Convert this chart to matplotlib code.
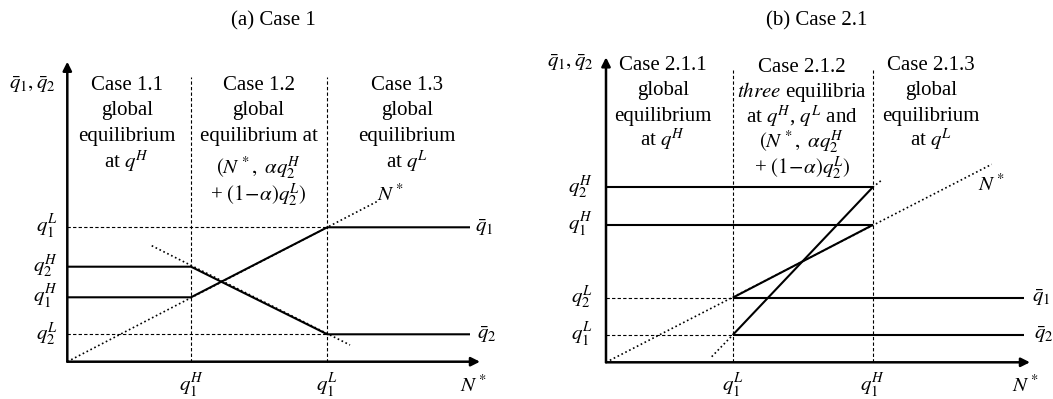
import matplotlib
matplotlib.use('Agg')
import matplotlib.pyplot as plt

plt.rcParams['font.family'] = 'Liberation Serif'
plt.rcParams['mathtext.fontset'] = 'stix'
FS = 15

# ---- panel (a): Case 1 ----
a_q1H_x, a_q1L_x = 1.237, 2.60          # thresholds on the N* axis
a_q1L, a_q2H, a_q1H, a_q2L = 1.344, 0.95, 0.644, 0.274
a_end = 4.027
a_qbar1_x = [0, a_q1H_x, a_q1L_x, a_end]
a_qbar1_y = [a_q1H, a_q1H, a_q1L, a_q1L]
a_qbar2_x = [0, a_q1H_x, a_q1L_x, a_end]
a_qbar2_y = [a_q2H, a_q2H, a_q2L, a_q2L]
a_nstar_x, a_nstar_y = [0, 3.094], [0, 1.60]
a_ext_x, a_ext_y = [0.844, 2.827], [1.16, 0.167]

# ---- panel (b): Case 2.1 ----
b_q1L_x, b_q1H_x = 1.267, 2.667
b_q2H, b_q1H, b_q2L, b_q1L = 1.75, 1.373, 0.646, 0.273
b_end = 4.183
b_nstar_x, b_nstar_y = [0, 3.857], [0, 1.98]
b_steep_x = [b_q1L_x, b_q1H_x]
b_steep_y = [b_q1L, b_q2H]
b_steep_lo_x, b_steep_lo_y = [1.057, b_q1L_x], [0.056, b_q1L]
b_steep_hi_x, b_steep_hi_y = [b_q1H_x, 2.767], [b_q2H, 1.83]

W, H = 1053, 399
fig = plt.figure(figsize=(W / 100, H / 100), dpi=100)

SOLID = dict(color='black', lw=1.5, solid_capstyle='butt', clip_on=False)
DASH = dict(color='black', lw=0.8, ls=(0, (3, 2)), clip_on=False)
DOT = dict(color='black', lw=1.2, ls=(0, (1, 1.6)), clip_on=False)


def make_axes(ox, oy, xmax, ymax):
    # origin in pixels from the top-left corner, 100 px per unit
    ax = fig.add_axes([ox / W, (H - oy) / H, xmax * 100 / W, ymax * 100 / H])
    ax.set_xlim(0, xmax)
    ax.set_ylim(0, ymax)
    ax.set_axis_off()
    return ax


def axis_arrows(ax, xend, yend):
    for tip in [(xend, 0), (0, yend)]:
        ax.annotate('', xy=tip, xytext=(0, 0), annotation_clip=False,
                    arrowprops=dict(arrowstyle='-|>', lw=1.8, color='black',
                                    mutation_scale=13, shrinkA=0, shrinkB=0))


def text_block(ax, x, ys, lines):
    for y, s in zip(ys, lines):
        ax.text(x, y, s, ha='center', va='center', fontsize=FS)


# ================= (a) =================
ax = make_axes(67.3, 361.7, 4.3, 3.1)
axis_arrows(ax, 4.127, 3.0)
for xv in [a_q1H_x, a_q1L_x]:
    ax.plot([xv, xv], [0, 2.847], **DASH)
for yv in [a_q1L, a_q2L]:
    ax.plot([0, a_q1L_x], [yv, yv], **DASH)
ax.plot(a_nstar_x, a_nstar_y, **DOT)
ax.plot(a_ext_x, a_ext_y, **DOT)
ax.plot(a_qbar1_x, a_qbar1_y, **SOLID)
ax.plot(a_qbar2_x, a_qbar2_y, **SOLID)

for yv, s in [(a_q1L, '$q_1^L$'), (a_q2H, '$q_2^H$'), (a_q1H, '$q_1^H$'), (a_q2L, '$q_2^L$')]:
    ax.text(-0.09, yv, s, ha='right', va='center', fontsize=FS)
for xv, s in [(a_q1H_x, '$q_1^H$'), (a_q1L_x, '$q_1^L$'), (4.06, '$N^*$')]:
    ax.text(xv, -0.245, s, ha='center', va='center', fontsize=FS)
ax.text(4.077, a_q1L, r'$\bar{q}_1$', ha='left', va='center', fontsize=FS)
ax.text(4.097, a_q2L, r'$\bar{q}_2$', ha='left', va='center', fontsize=FS)
ax.text(3.228, 1.667, '$N^*$', ha='center', va='center', fontsize=FS)
ax.text(-0.353, 2.767, r'$\bar{q}_1, \bar{q}_2$', ha='center', va='center', fontsize=FS)

text_block(ax, 0.595, [2.767, 2.517, 2.247, 1.997],
           ['Case 1.1', 'global', 'equilibrium', 'at $q^H$'])
text_block(ax, 1.913, [2.767, 2.517, 2.247, 1.937, 1.667],
           ['Case 1.2', 'global', 'equilibrium at',
            r'$(N^*,\ \alpha q_2^H$', r'+ $(1\!-\!\alpha)q_2^L)$'])
text_block(ax, 3.397, [2.767, 2.517, 2.247, 1.997],
           ['Case 1.3', 'global', 'equilibrium', 'at $q^L$'])
fig.text(273 / W, 1 - 21 / H, '(a) Case 1', ha='center', va='center', fontsize=FS)

# ================= (b) =================
ax = make_axes(606, 362.3, 4.4, 3.1)
axis_arrows(ax, 4.24, 3.05)
for xv in [b_q1L_x, b_q1H_x]:
    ax.plot([xv, xv], [0, 2.92], **DASH)
for yv in [b_q2L, b_q1L]:
    ax.plot([0, b_q1L_x], [yv, yv], **DASH)
ax.plot(b_nstar_x, b_nstar_y, **DOT)
ax.plot(b_steep_lo_x, b_steep_lo_y, **DOT)
ax.plot(b_steep_hi_x, b_steep_hi_y, **DOT)
ax.plot([0, b_q1H_x], [b_q2H, b_q2H], **SOLID)
ax.plot([0, b_q1H_x], [b_q1H, b_q1H], **SOLID)
ax.plot([b_q1L_x, b_q1H_x], [b_q2L, b_q1H], **SOLID)
ax.plot(b_steep_x, b_steep_y, **SOLID)
ax.plot([b_q1L_x, b_end], [b_q2L, b_q2L], **SOLID)
ax.plot([b_q1L_x, b_end], [b_q1L, b_q1L], **SOLID)

for yv, s in [(b_q2H, '$q_2^H$'), (b_q1H, '$q_1^H$'), (b_q2L, '$q_2^L$'), (b_q1L, '$q_1^L$')]:
    ax.text(-0.13, yv, s, ha='right', va='center', fontsize=FS)
for xv, s in [(b_q1L_x, '$q_1^L$'), (b_q1H_x, '$q_1^H$'), (4.19, '$N^*$')]:
    ax.text(xv, -0.235, s, ha='center', va='center', fontsize=FS)
ax.text(4.257, b_q2L, r'$\bar{q}_1$', ha='left', va='center', fontsize=FS)
ax.text(4.277, b_q1L, r'$\bar{q}_2$', ha='left', va='center', fontsize=FS)
ax.text(3.857, 1.773, '$N^*$', ha='center', va='center', fontsize=FS)
ax.text(-0.36, 2.993, r'$\bar{q}_1, \bar{q}_2$', ha='center', va='center', fontsize=FS)

text_block(ax, 0.57, [2.973, 2.713, 2.453, 2.223],
           ['Case 2.1.1', 'global', 'equilibrium', 'at $q^H$'])
text_block(ax, 1.96, [2.943, 2.703, 2.453, 2.203, 1.943],
           ['Case 2.1.2', r'$\mathit{three}$ equilibria', 'at $q^H$, $q^L$ and',
            r'$(N^*,\ \alpha q_2^H$', r'+ $(1\!-\!\alpha)q_2^L)$'])
text_block(ax, 3.25, [2.973, 2.713, 2.453, 2.223],
           ['Case 2.1.3', 'global', 'equilibrium', 'at $q^L$'])
fig.text(817 / W, 1 - 21 / H, '(b) Case 2.1', ha='center', va='center', fontsize=FS)

fig.savefig('out.png', dpi=100)
